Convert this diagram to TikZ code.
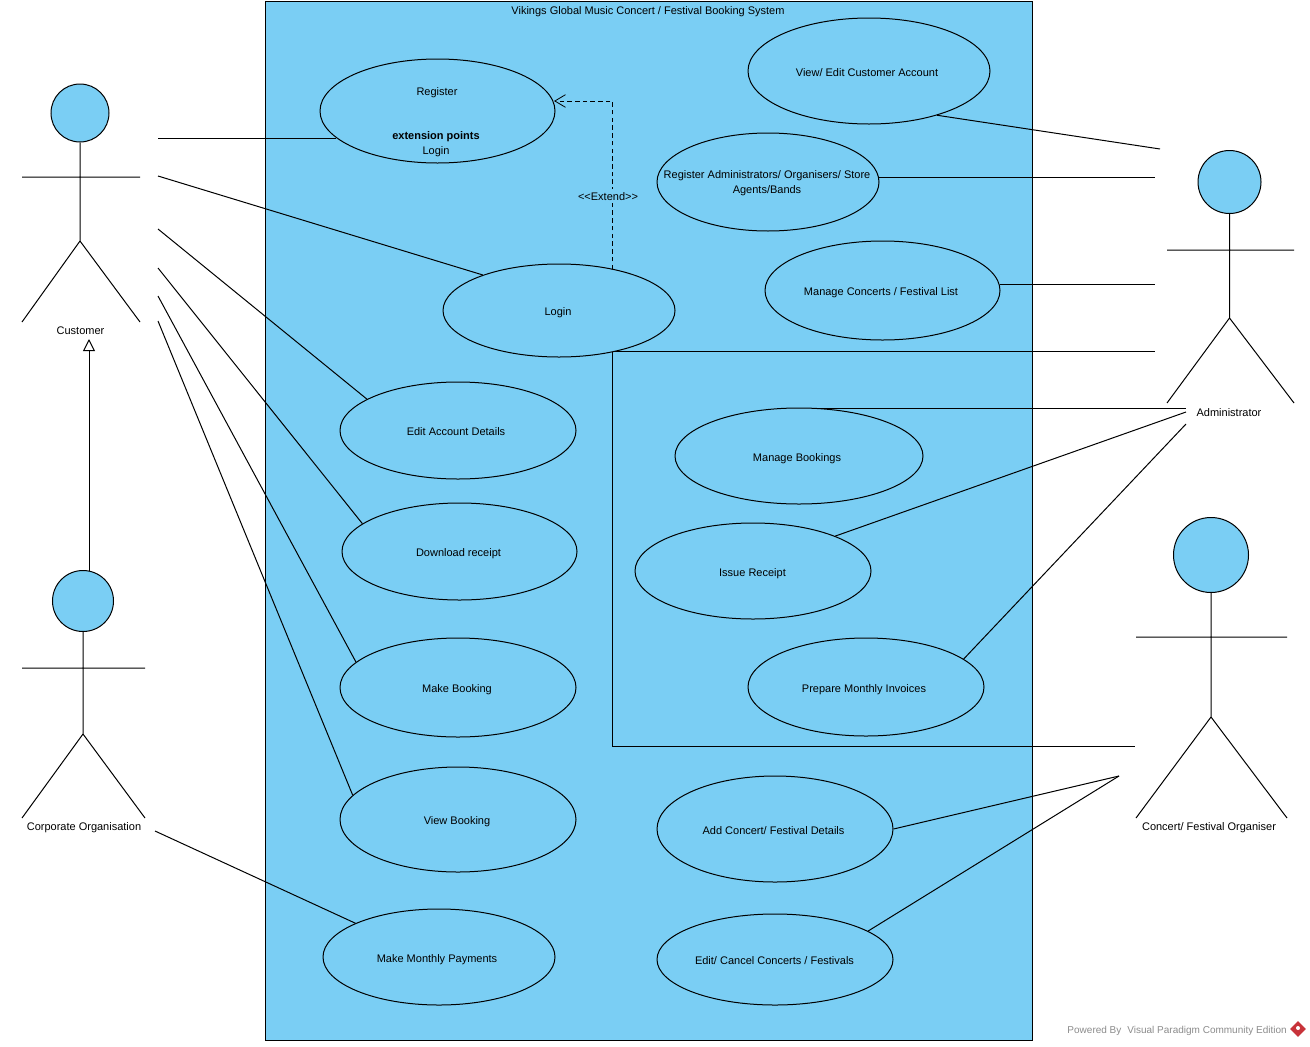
\documentclass[tikz,border=0pt]{standalone}
\usepackage{fontspec}
\setmainfont{Liberation Sans}
\usetikzlibrary{shapes.geometric,arrows.meta}
\definecolor{vpblue}{HTML}{7ACEF4}
\definecolor{vpgrey}{HTML}{8C8C8C}
\definecolor{vpred}{HTML}{C8333A}
\tikzset{
  x=0.75pt,y=-0.75pt,
  conn/.style={draw=black,line width=0.75pt},
  uc/.style={ellipse,draw=black,fill=vpblue,line width=0.75pt,inner sep=0pt},
  head/.style={circle,draw=black,fill=vpblue,line width=0.75pt,inner sep=0pt},
  lab2/.style={inner sep=0pt,font=\fontsize{8.25}{11.25}\selectfont,align=center},
  lab/.style={lab2,text height=7pt,text depth=1pt},
  gentip/.style={-{Triangle[open,length=9pt,width=9pt,fill=white]}},
  opentip/.style={-{Straight Barb[length=8pt,width=9.5pt,line width=0.6pt]}},
}
\begin{document}
\begin{tikzpicture}
\useasboundingbox (0,0) rectangle (1310,1046);
\fill[white] (0,0) rectangle (1310,1046);
\node[draw=black,fill=vpblue,line width=0.75pt,minimum width=575.25pt,minimum height=779.25pt,inner sep=0pt] (sys) at (648.5,520.5) {};
\node[lab] (title) at (648,10) {Vikings Global Music Concert / Festival Booking System};

% use cases
\node[uc,minimum width=176.25pt,minimum height=78pt] (reg) at (437.5,111) {};
\node[lab] (regt) at (437,91) {Register};
\node[lab,font=\fontsize{8.25}{11.25}\selectfont\bfseries] (regx) at (436,135) {extension points};
\node[lab] (regl) at (436,150) {Login};
\node[uc,minimum width=181.5pt,minimum height=79.5pt] (view) at (869,71) {};
\node[lab] (viewt) at (867,72) {View/ Edit Customer Account};
\node[uc,minimum width=166.5pt,minimum height=73.5pt] (regadm) at (768,182) {};
\node[lab2] (regadmt) at (767,183) {Register Administrators/ Organisers/ Store\\Agents/Bands};
\node[uc,minimum width=176.25pt,minimum height=74.25pt] (mconc) at (882.5,290.5) {};
\node[lab] (mconct) at (881,291) {Manage Concerts / Festival List};
\node[uc,minimum width=174pt,minimum height=69.75pt] (login) at (559,310.5) {};
\node[lab] (logint) at (558,311) {Login};
\node[uc,minimum width=177pt,minimum height=72.75pt] (edit) at (458,430.5) {};
\node[lab] (editt) at (456,431) {Edit Account Details};
\node[uc,minimum width=176.25pt,minimum height=72.75pt] (down) at (459.5,551.5) {};
\node[lab] (downt) at (458.5,552) {Download receipt};
\node[uc,minimum width=186pt,minimum height=72pt] (mbook) at (799,456) {};
\node[lab] (mbookt) at (797,457) {Manage Bookings};
\node[uc,minimum width=177pt,minimum height=72pt] (issue) at (753,571) {};
\node[lab] (issuet) at (752.5,572) {Issue Receipt};
\node[uc,minimum width=177pt,minimum height=73.5pt] (prep) at (866,687) {};
\node[lab] (prept) at (864,688) {Prepare Monthly Invoices};
\node[uc,minimum width=177pt,minimum height=74.25pt] (make) at (458,687.5) {};
\node[lab] (maket) at (457,688) {Make Booking};
\node[uc,minimum width=177pt,minimum height=78.75pt] (vbook) at (458,819.5) {};
\node[lab] (vbookt) at (457,820) {View Booking};
\node[uc,minimum width=177pt,minimum height=79.5pt] (add) at (775,829) {};
\node[lab] (addt) at (773.5,830) {Add Concert/ Festival Details};
\node[uc,minimum width=177pt,minimum height=68.25pt] (ecan) at (775,959.5) {};
\node[lab] (ecant) at (774.5,960) {Edit/ Cancel Concerts / Festivals};
\node[uc,minimum width=174pt,minimum height=72pt] (pay) at (439,957) {};
\node[lab] (payt) at (437,958) {Make Monthly Payments};

% actors
\node[head,minimum size=43.5pt] (cust) at (80,113) {};
\coordinate (custhip) at (80,241);
\coordinate (custal) at (22,177); \coordinate (custar) at (140,177);
\coordinate (custll) at (22,322); \coordinate (custlr) at (140,322);
\draw[conn] (cust.south) -- (custhip) (custal) -- (custar) (custll) -- (custhip) -- (custlr);
\node[lab] (custn) at (80.5,330) {Customer};

\node[head,minimum size=45.75pt] (corp) at (83,601) {};
\coordinate (corphip) at (83,734);
\coordinate (corpal) at (22,668); \coordinate (corpar) at (145,668);
\coordinate (corpll) at (22,818); \coordinate (corplr) at (145,818);
\draw[conn] (corp.south) -- (corphip) (corpal) -- (corpar) (corpll) -- (corphip) -- (corplr);
\node[lab] (corpn) at (84,826) {Corporate Organisation};

\node[head,minimum size=47.25pt] (adm) at (1229.5,182) {};
\coordinate (admhip) at (1229.5,318);
\coordinate (admal) at (1167,250); \coordinate (admar) at (1294,250);
\coordinate (admll) at (1167,403); \coordinate (admlr) at (1294,403);
\draw[conn] (adm.south) -- (admhip) (admal) -- (admar) (admll) -- (admhip) -- (admlr);
\node[lab] (admn) at (1229,412) {Administrator};

\node[head,minimum size=56.25pt] (org) at (1211,555) {};
\coordinate (orghip) at (1211,717);
\coordinate (orgal) at (1136,637); \coordinate (orgar) at (1287,637);
\coordinate (orgll) at (1136,818); \coordinate (orglr) at (1287,818);
\draw[conn] (org.south) -- (orghip) (orgal) -- (orgar) (orgll) -- (orghip) -- (orglr);
\node[lab] (orgn) at (1209,826) {Concert/ Festival Organiser};

% free ends
\coordinate (c1) at (158,138.5);
\coordinate (c2) at (158,176);
\coordinate (c3) at (158,229);
\coordinate (c4) at (158,268);
\coordinate (c5) at (158,296);
\coordinate (c6) at (158,321);
\coordinate (c7) at (155,831);
\coordinate (a1) at (1160,149);
\coordinate (a2) at (1155,177);
\coordinate (a3) at (1155,284.5);
\coordinate (a4) at (1155,351.5);
\coordinate (a5) at (1186,408.5);
\coordinate (a6) at (1186,412);
\coordinate (a7) at (1186,424);
\coordinate (o1) at (1135,746);
\coordinate (o2) at (1119,776);
\coordinate (lk) at (612,746);
\coordinate (ek) at (612.5,101);
\coordinate (gt) at (89,339);

% connectors
\draw[conn] (c1) -- (reg.195.05 |- c1);
\draw[conn] (c2) -- (login.155.6);
\draw[conn] (c3) -- (edit.161.3);
\draw[conn] (c4) -- (down.164.4);
\draw[conn] (c5) -- (make.166.2);
\draw[conn] (c6) -- (vbook.167.3);
\draw[conn] (c7) -- (pay.158.9);
\draw[conn] (view.-33.1) -- (a1);
\draw[conn] (regadm.2.6 |- a2) -- (a2);
\draw[conn] (mconc.2.9 |- a3) -- (a3);
\draw[conn] (login.-37.7 |- a4) -- (a4);
\draw[conn] (mbook.68.2 |- a5) -- (a5);
\draw[conn] (issue.23.6) -- (a6);
\draw[conn] (prep.16) -- (a7);
\draw[conn] (lk |- a4) -- (lk) -- (o1);
\draw[conn] (add.0.5) -- (o2);
\draw[conn] (ecan.17.4) -- (o2);
\draw[conn,gentip] (gt |- corp.78.7) -- (gt);
\draw[conn,line width=0.6pt,dash pattern=on 3.4pt off 2.4pt,opentip] (ek |- login.37.7) -- (ek) -- (reg.4.95 |- ek);
\node[lab,fill=vpblue,inner xsep=0.5pt,inner ysep=1.5pt] (ext) at (608,196) {{<}{<}Extend{>}{>}};

% footer
\node[lab,text=vpgrey,anchor=east,font=\fontsize{7.5}{9}\selectfont] (pow) at (1287,1029) {Powered By\hspace{0.6em}Visual Paradigm Community Edition};
\node[diamond,fill=vpred,minimum size=12pt,inner sep=0pt] (logo) at (1298,1029) {};
\node[circle,fill=white,minimum size=3pt,inner sep=0pt] (logoc) at (1298,1028) {};
\end{tikzpicture}
\end{document}
